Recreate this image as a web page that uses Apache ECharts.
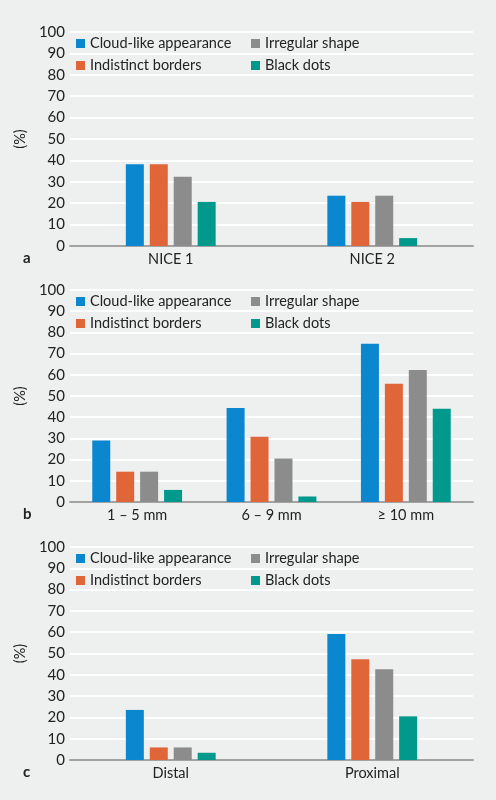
<!DOCTYPE html>
<html><head><meta charset="utf-8">
<script src="https://cdn.jsdelivr.net/npm/echarts@6/dist/echarts.min.js"></script>
<style>html,body{margin:0;padding:0;background:#eef0f0;}#c{width:496px;height:800px;}</style>
</head><body><div id="c"></div>
<script>
const seriesNames = ['Cloud-like appearance','Indistinct borders','Irregular shape','Black dots'];
const seriesColors = ['#0b87cf','#e0663a','#8c8c8c','#00998b'];
const yTicks = [0,10,20,30,40,50,60,70,80,90,100];

const catsA = ['NICE 1','NICE 2'];
const cloudA = [38.2, 23.5];
const indistinctA = [38.2, 20.6];
const irregularA = [32.4, 23.5];
const blackA = [20.6, 3.7];

const catsB = ['1 – 5 mm','6 – 9 mm','≥ 10 mm'];
const cloudB = [29.0, 44.3, 74.7];
const indistinctB = [14.3, 30.8, 55.8];
const irregularB = [14.3, 20.5, 62.3];
const blackB = [5.7, 2.6, 44.0];

const catsC = ['Distal','Proximal'];
const cloudC = [23.5, 59.2];
const indistinctC = [5.9, 47.3];
const irregularC = [5.9, 42.6];
const blackC = [3.4, 20.5];

const panels = [
  {cats: catsA, data: [cloudA, indistinctA, irregularA, blackA], top: 32, h: 214, letter: 'a'},
  {cats: catsB, data: [cloudB, indistinctB, irregularB, blackB], top: 290, h: 212, letter: 'b'},
  {cats: catsC, data: [cloudC, indistinctC, irregularC, blackC], top: 547, h: 213, letter: 'c'}
];

const FONT = 'Lato';
const TXT = '#222';
const grid = [], xAxis = [], yAxis = [], series = [], legend = [], title = [];
panels.forEach((p, i) => {
  grid.push({left: 70, right: 23, top: p.top, height: p.h});
  xAxis.push({type: 'category', gridIndex: i, data: p.cats,
    axisLine: {show: true, lineStyle: {color: '#a3a3a3', width: 2}},
    axisTick: {show: false},
    axisLabel: {color: TXT, fontFamily: FONT, fontSize: 14.5, margin: 6}
  });
  yAxis.push({type: 'value', gridIndex: i, min: 0, max: 100, interval: 10,
    name: '(%)', nameLocation: 'middle', nameGap: 17, nameRotate: 90,
    nameTextStyle: {color: TXT, fontFamily: FONT, fontSize: 14.5},
    axisLine: {show: false}, axisTick: {show: false},
    axisLabel: {color: TXT, fontFamily: FONT, fontSize: 15, margin: 5},
    splitLine: {show: true, lineStyle: {color: '#ffffff', width: 2}}
  });
  seriesNames.forEach((n, k) => {
    series.push({type: 'bar', name: n, xAxisIndex: i, yAxisIndex: i, data: p.data[k],
      barWidth: 18, barGap: '33%', itemStyle: {color: seriesColors[k]}});
  });
  const lt = p.top + 3;
  legend.push({orient: 'vertical', left: 76, top: lt, padding: 0, itemGap: 5,
    itemWidth: 9, itemHeight: 9, icon: 'rect', selectedMode: false,
    data: [seriesNames[0], seriesNames[1]],
    textStyle: {color: TXT, fontFamily: FONT, fontSize: 14.5, lineHeight: 17}});
  legend.push({orient: 'vertical', left: 251, top: lt, padding: 0, itemGap: 5,
    itemWidth: 9, itemHeight: 9, icon: 'rect', selectedMode: false,
    data: [seriesNames[2], seriesNames[3]],
    textStyle: {color: TXT, fontFamily: FONT, fontSize: 14.5, lineHeight: 17}});
  title.push({text: p.letter, left: 23, top: p.top + p.h + 5, padding: 0,
    textStyle: {color: TXT, fontFamily: FONT, fontSize: 15, fontWeight: 'bold'}});
});

const chart = echarts.init(document.getElementById('c'));
chart.setOption({backgroundColor: '#eef0f0', animation: false,
  grid, xAxis, yAxis, series, legend, title});
</script></body></html>
